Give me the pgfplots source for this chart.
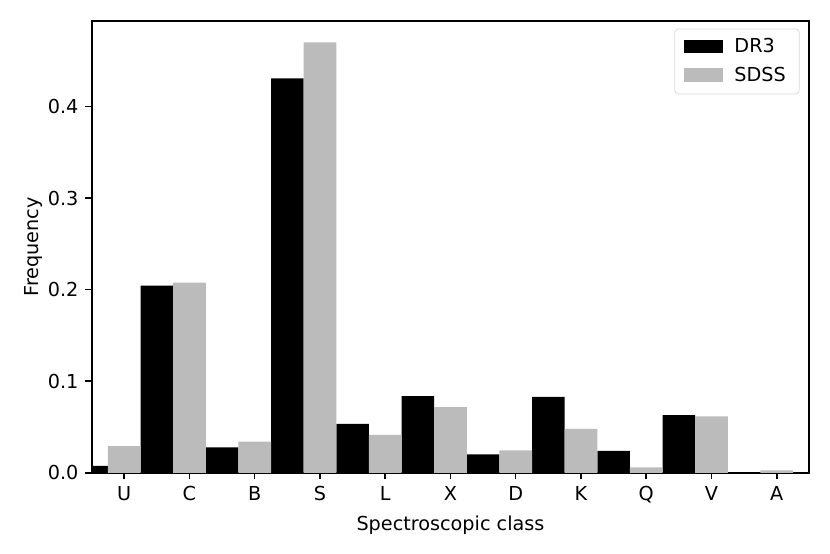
\documentclass[border=0pt]{standalone}
\usepackage{pgfplots}
\pgfplotsset{compat=1.18}
\usepackage{fontspec}
\setmainfont{DejaVu Sans}
\definecolor{sdss}{RGB}{187,187,187}
\begin{document}
\begin{tikzpicture}
\begin{axis}[
  scale only axis,
  width=373pt, height=235pt,
  xmin=-0.495, xmax=10.495,
  ymin=0, ymax=0.4937,
  xtick={0,1,2,3,4,5,6,7,8,9,10},
  xticklabels={U,C,B,S,L,X,D,K,Q,V,A},
  ytick={0,0.1,0.2,0.3,0.4},
  yticklabel style={/pgf/number format/fixed,/pgf/number format/fixed zerofill,/pgf/number format/precision=1},
  /pgf/number format/assume math mode=true,
  tick align=outside,
  tick pos=left,
  major tick length=3.5pt,
  tick style={black, line width=0.8pt},
  axis line style={line width=0.8pt},
  ticklabel style={font=\fontsize{10}{12}\selectfont},
  label style={font=\fontsize{10}{12}\selectfont},
  xlabel={Spectroscopic class},
  ylabel={Frequency},
  ylabel style={yshift=-4pt},
  ybar, bar width=0.5, bar shift=0pt,
  legend style={at={(0.987,0.983)}, anchor=north east, draw=black!15, rounded corners=2pt,
    font=\fontsize{10}{12}\selectfont, inner xsep=5pt, inner ysep=3pt, row sep=2pt},
  legend cell align=left,
  legend image code/.code={\fill[#1, sharp corners, draw=none] (0pt,-3pt) rectangle (20pt,4pt);
    \path[draw=none, fill=none, opacity=0] (0pt,0pt) rectangle (24pt,1pt);},
  clip=true,
]
\addplot[fill=black, draw=none] coordinates {
 (-0.5,0.0074) (0.5,0.2044) (1.5,0.0277) (2.5,0.431) (3.5,0.0535) (4.5,0.0838)
 (5.5,0.020) (6.5,0.083) (7.5,0.024) (8.5,0.063) (9.5,0.0006)};
\addlegendentry{DR3}
\addplot[fill=sdss, draw=none] coordinates {
 (0,0.029) (1,0.2077) (2,0.034) (3,0.4704) (4,0.0415) (5,0.0718)
 (6,0.0245) (7,0.048) (8,0.006) (9,0.0616) (10,0.0027)};
\addlegendentry{SDSS}
\end{axis}
\path[use as bounding box] (current axis.south west) ++(-47.8pt,-42.1pt) rectangle ([xshift=10.9pt,yshift=10.9pt]current axis.north east);
\end{tikzpicture}
\end{document}
